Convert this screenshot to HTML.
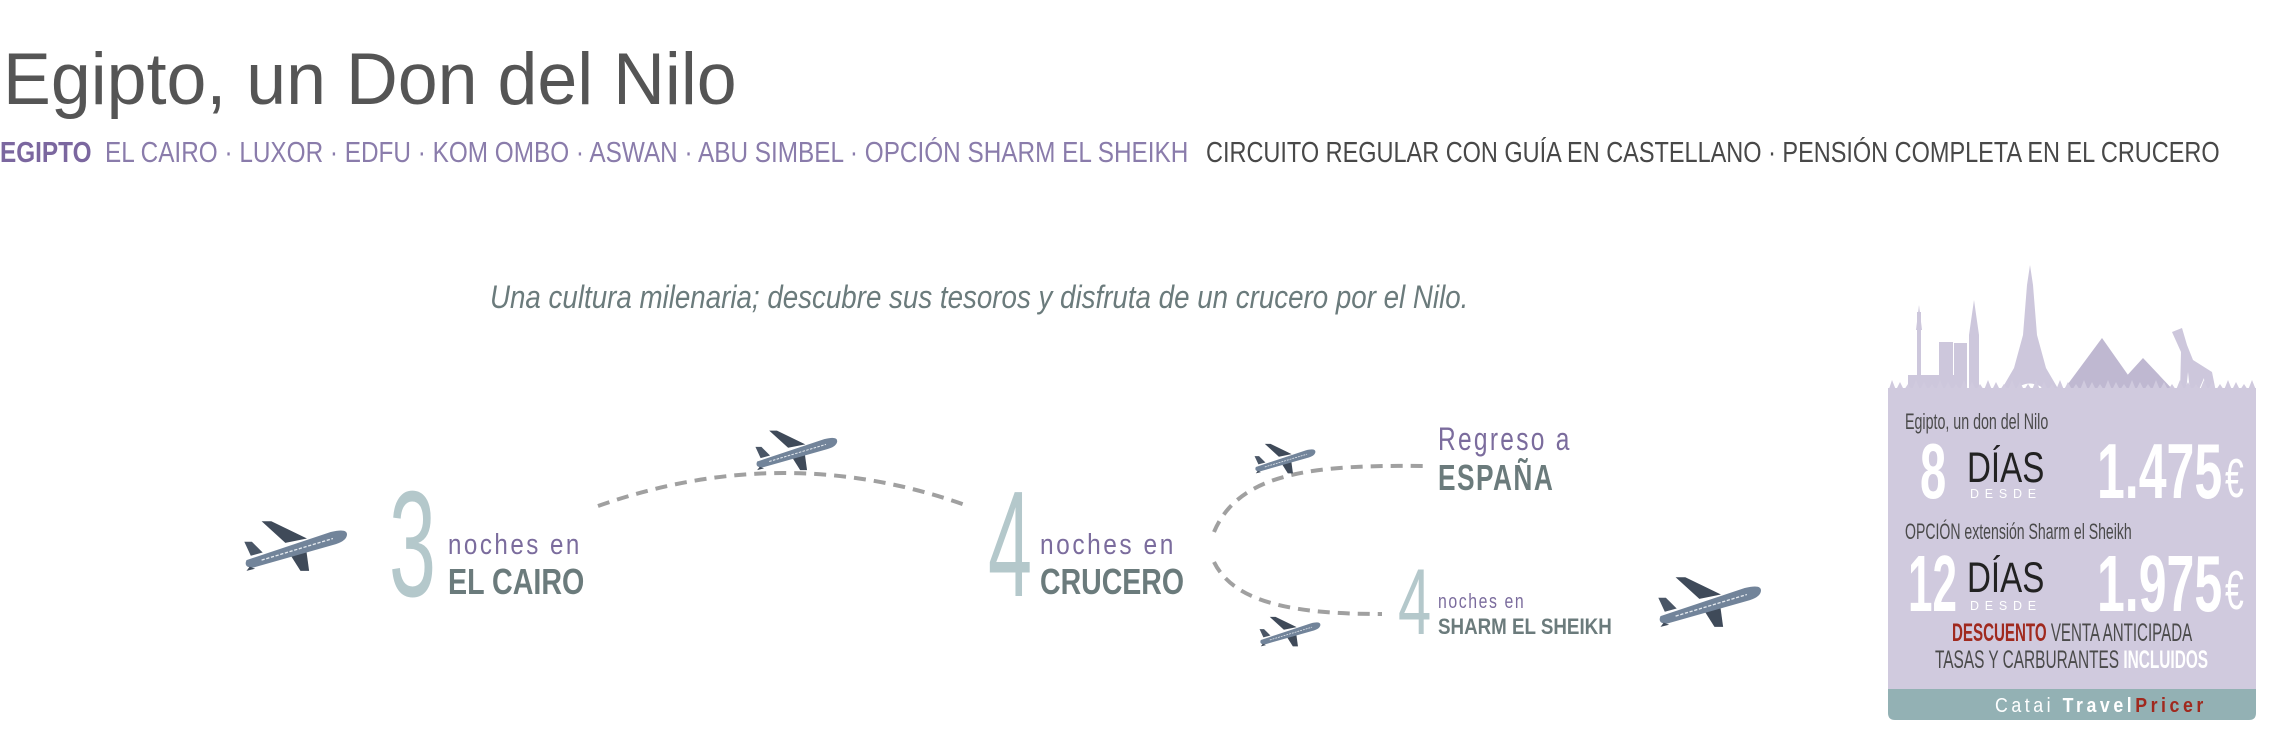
<!DOCTYPE html>
<html><head><meta charset="utf-8">
<style>
html,body{margin:0;padding:0;background:#fff;}
body{width:2278px;height:753px;position:relative;overflow:hidden;font-family:"Liberation Sans","DejaVu Sans",sans-serif;}
.t{position:absolute;white-space:nowrap;line-height:1;transform-origin:0 0;}
.c{font-family:"Liberation Sans",sans-serif;}
svg{position:absolute;left:0;top:0;}
</style></head><body>

<svg width="2278" height="753" viewBox="0 0 2278 753">
 <defs>
  <g id="pl">
   <path d="M42,23 L20,3 L29,3 L62,19 Z" fill="#3f4a59"/>
   <path d="M44,30 L56,49 L64,49 L61,27 Z" fill="#3f4a59"/>
   <path d="M10,35 L4,22 L11,22 L21,32 Z" fill="#4a5666"/>
   <path d="M6,39 L84,13 Q100,9 99,16 Q98,22 86,25 L12,46 Q3,46 6,39 Z" fill="#72849a"/>
   <path d="M20,39 L86,19" stroke="#e6ebf0" stroke-width="1.2" stroke-dasharray="3 1.5"/>
   <path d="M9,45 L6,49 L14,47 Z" fill="#3f4a59"/>
  </g>
 </defs>
 <path d="M598,506 Q785,440 968,506" fill="none" stroke="#a0a0a0" stroke-width="4" stroke-dasharray="12 8"/>
 <path d="M1214,532 C1240,470 1320,465 1424,466" fill="none" stroke="#a0a0a0" stroke-width="4" stroke-dasharray="12 8"/>
 <path d="M1214,562 C1235,605 1300,614 1382,614" fill="none" stroke="#a0a0a0" stroke-width="4" stroke-dasharray="12 8"/>
 <use href="#pl" transform="translate(240,518) scale(1.08)"/>
 <use href="#pl" transform="translate(752,428) scale(0.86)"/>
 <use href="#pl" transform="translate(1252,442) scale(0.64)"/>
 <use href="#pl" transform="translate(1257,615) scale(0.64)"/>
 <use href="#pl" transform="translate(1654,574) scale(1.08)"/>

 <g>
  <g fill="#cdc7dc">
   <rect x="1917" y="312" width="4" height="80"/>
   <polygon points="1919,305 1916,330 1922,330"/>
   <rect x="1908" y="375" width="50" height="17"/>
   <rect x="1939" y="342" width="14" height="50"/>
   <rect x="1954" y="343" width="13" height="49"/>
   <rect x="1969" y="335" width="10" height="57"/>
   <polygon points="1974,300 1969,335 1979,335"/>
   <path d="M2030,265 L2033,285 L2037,335 L2046,368 L2060,392 L2048,392 Q2030,375 2012,392 L2000,392 L2014,368 L2023,335 L2027,285 Z"/>
  </g>
  <g fill="#bfb8d1">
   <polygon points="2062,392 2102,338 2140,392"/>
   <polygon points="2112,392 2143,358 2175,392"/>
  </g>
  <g fill="#cdc7dc">
   <path d="M2172,332 L2182,328 L2187,345 L2193,360 L2212,372 L2216,392 L2205,392 L2204,378 L2198,392 L2190,392 L2188,372 L2186,392 L2180,392 L2181,352 Z"/>
  </g>
  <rect x="1888" y="388" width="368" height="305" fill="#d0cade"/>
  <path id="grass" d="" fill="#d0cade"/>
  <path d="M1888,689 H2256 V713 Q2256,720 2249,720 H1895 Q1888,720 1888,713 Z" fill="#93b1b4"/>
 </g>
</svg>

<div class="t" style="left:3px;top:43px;font-size:73px;color:#555;--w:734px">Egipto, un Don del Nilo</div>
<div class="t c" style="left:0;top:139px;font-size:29px;color:#8a7cab;--w:1188px"><b style="color:#7b679f">EGIPTO</b>&nbsp; EL CAIRO · LUXOR · EDFU · KOM OMBO · ASWAN · ABU SIMBEL · OPCIÓN SHARM EL SHEIKH</div>
<div class="t c" style="left:1206px;top:139px;font-size:29px;color:#484848;--w:1014px">CIRCUITO REGULAR CON GUÍA EN CASTELLANO · PENSIÓN COMPLETA EN EL CRUCERO</div>
<div class="t" style="left:490px;top:281px;font-size:32px;color:#6b7b7c;font-style:italic;--w:978px">Una cultura milenaria; descubre sus tesoros y disfruta de un crucero por el Nilo.</div>

<div class="t" style="left:389px;top:468px;font-size:151px;color:#b4c8cb;--w:47px">3</div>
<div class="t" style="left:448px;top:531px;font-size:29px;color:#7b6c9d;letter-spacing:3px;--w:134px">noches en</div>
<div class="t" style="left:448px;top:564px;font-size:36px;color:#6b7b7c;font-weight:bold;--w:136px">EL CAIRO</div>

<div class="t" style="left:988px;top:468px;font-size:151px;color:#b4c8cb;--w:44px">4</div>
<div class="t" style="left:1040px;top:531px;font-size:29px;color:#7b6c9d;letter-spacing:3px;--w:136px">noches en</div>
<div class="t" style="left:1040px;top:564px;font-size:36px;color:#6b7b7c;font-weight:bold;--w:144px">CRUCERO</div>

<div class="t" style="left:1438px;top:423px;font-size:32px;color:#7b6c9d;letter-spacing:3px;--w:134px">Regreso a</div>
<div class="t" style="left:1438px;top:460px;font-size:36px;color:#6b7b7c;font-weight:bold;letter-spacing:2px;--w:116px">ESPAÑA</div>

<div class="t" style="left:1398px;top:555px;font-size:94px;color:#b4c8cb;--w:33px">4</div>
<div class="t" style="left:1438px;top:592px;font-size:20px;color:#7b6c9d;letter-spacing:2px;--w:87px">noches en</div>
<div class="t" style="left:1438px;top:616px;font-size:22px;color:#6b7b7c;font-weight:bold;--w:174px">SHARM EL SHEIKH</div>

<div class="t" style="left:1905px;top:411px;font-size:22px;color:#4a4a4a;--w:143px">Egipto, un don del Nilo</div>
<div class="t" style="left:1920px;top:432px;font-size:78px;color:#fff;font-weight:bold;--w:26px">8</div>
<div class="t" style="left:1967px;top:447px;font-size:43px;color:#222;--w:77px">DÍAS</div>
<div class="t" style="left:1970px;top:487px;font-size:13px;color:#fff;letter-spacing:6px;--w:72px">DESDE</div>
<div class="t" style="left:2097px;top:432px;font-size:78px;color:#fff;font-weight:bold;--w:125px">1.475</div>
<div class="t" style="left:2225px;top:451px;font-size:55px;color:#fff;--w:19px">€</div>

<div class="t" style="left:1905px;top:521px;font-size:22px;color:#4a4a4a;--w:227px">OPCIÓN extensión Sharm el Sheikh</div>
<div class="t" style="left:1908px;top:544px;font-size:80px;color:#fff;font-weight:bold;--w:49px">12</div>
<div class="t" style="left:1967px;top:557px;font-size:43px;color:#222;--w:77px">DÍAS</div>
<div class="t" style="left:1970px;top:599px;font-size:13px;color:#fff;letter-spacing:6px;--w:72px">DESDE</div>
<div class="t" style="left:2097px;top:544px;font-size:80px;color:#fff;font-weight:bold;--w:125px">1.975</div>
<div class="t" style="left:2225px;top:563px;font-size:55px;color:#fff;--w:19px">€</div>

<div class="t" style="left:1952px;top:621px;font-size:25px;color:#4a4a4a;--w:240px"><b style="color:#a0291e">DESCUENTO</b> VENTA ANTICIPADA</div>
<div class="t" style="left:1935px;top:648px;font-size:25px;color:#4a4a4a;--w:273px">TASAS Y CARBURANTES <b style="color:#fff">INCLUIDOS</b></div>
<div class="t" style="left:1995px;top:696px;font-size:20px;color:#fff;letter-spacing:4px;--w:212px">Catai <b>Travel</b><b style="color:#a0291e">Pricer</b></div>

<script>
document.querySelectorAll('.t').forEach(function(el){
  var w=parseFloat(getComputedStyle(el).getPropertyValue('--w'));
  if(w&&el.offsetWidth){el.style.transform='scaleX('+(w/el.offsetWidth)+')';}
});
(function(){
  var d='M1888,392',x=1888,i=0;
  while(x<2256){x=Math.min(2256,x+4);var y=(i%2==0)?380+((i*7)%6):390;d+=' L'+x+','+y;i++;}
  d+=' L2256,392 L2256,400 L1888,400 Z';
  document.getElementById('grass').setAttribute('d',d);
})();
</script>
</body></html>
